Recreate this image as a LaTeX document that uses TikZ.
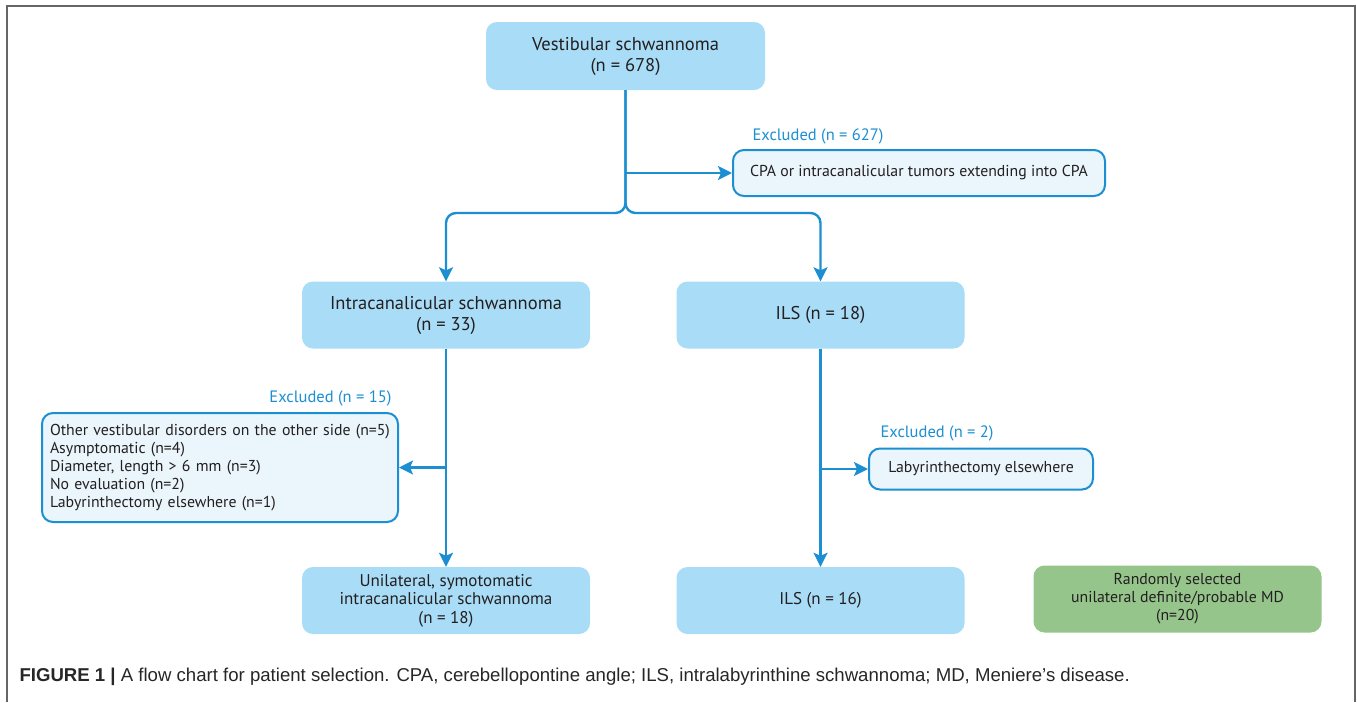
\documentclass[tikz,border=0pt]{standalone}
\usepackage{fontspec}
\setmainfont{PT Sans}
\newfontfamily\capfont{Liberation Sans}
\usepackage{tikz}
\usetikzlibrary{positioning, calc}
\usetikzlibrary{arrows.meta}
\definecolor{boxblue}{HTML}{A9DCF6}
\definecolor{paleblue}{HTML}{EBF6FC}
\definecolor{lineblue}{HTML}{1B8FD2}
\definecolor{mdgreen}{HTML}{95C58B}
\definecolor{inkgray}{HTML}{231F20}

\begin{document}
\begin{tikzpicture}[x=1pt,y=-1pt,text=inkgray]
	\def \rowtop{56}
	\def \rowcpa{173}
	\def \rowsplit{213}
	\def \rowmid{315}
	\def \rowexcl{469}
	\def \rowbottom{600.5}
	\def \colleft{446}
	\def \colright{820.5}
	\tikzstyle{main-node}=[rectangle,rounded corners=11pt,fill=boxblue,align=center,minimum width=288pt,minimum height=67pt,font=\fontsize{18.5}{21}\selectfont]
	\tikzstyle{low-node}=[main-node,font=\fontsize{17}{18.5}\selectfont]
	\tikzstyle{ex-node}=[rectangle,rounded corners=11pt,draw=lineblue,line width=2pt,fill=paleblue,font=\fontsize{15.8}{18}\selectfont]
	\tikzstyle{ex-lbl}=[text=lineblue,font=\fontsize{16.5}{18}\selectfont]
	\tikzstyle{flow}=[draw=lineblue,line width=2.4pt,-{Stealth[length=14pt,width=14pt,inset=3pt]}]
	\useasboundingbox (0,0) rectangle (1357,702);
	\draw[black!60,line width=1.6pt] (7,702) -- (7,6) -- (1355,6) -- (1355,702);

	% selection boxes
	\node[main-node,minimum width=279pt,minimum height=68pt] (vs) at (625.5,\rowtop) {Vestibular schwannoma\\(n = 678)};
	\node[main-node] (ic) at (\colleft,\rowmid) {Intracanalicular schwannoma\\(n = 33)};
	\node[main-node] (ils) at (\colright,\rowmid) {ILS (n = 18)};
	\node[low-node] (uni) at (\colleft,\rowbottom) {Unilateral, symotomatic\\intracanalicular schwannoma\\(n = 18)};
	\node[low-node] (ilsb) at (\colright,\rowbottom) {ILS (n = 16)};
	\node[low-node,fill=mdgreen,font=\fontsize{15.8}{18}\selectfont] (md) at (1177.5,599) {Randomly selected\\unilateral definite/probable MD\\(n=20)};

	% exclusions
	\node[ex-node,minimum width=372pt,minimum height=46pt] (cpa) at (919,\rowcpa) {CPA or intracanalicular tumors extending into CPA};
	\node[ex-node,minimum width=356pt,minimum height=109pt,align=left,text width=340pt] (exl) at (220,467.5) {Other vestibular disorders on the other side (n=5)\\Asymptomatic (n=4)\\Diameter, length > 6 mm (n=3)\\No evaluation (n=2)\\Labyrinthectomy elsewhere (n=1)};
	\node[ex-node,minimum width=224pt,minimum height=41pt] (lab) at (981,\rowexcl) {Labyrinthectomy elsewhere};
	\node[ex-lbl,anchor=west] (lbl0) at (749,136) {Excluded (n = 627)};
	\node[ex-lbl,anchor=east] (lbl1) at (395,398) {Excluded (n = 15)};
	\node[ex-lbl,anchor=west] (lbl2) at (877,433) {Excluded (n = 2)};

	% connectors
	\coordinate (split) at (625.5,\rowsplit);
	\coordinate (j0) at (vs.south |- cpa.west);
	\coordinate (j1) at (ic.south |- exl.east);
	\coordinate (j2) at (ils.south |- lab.west);
	\draw[flow,rounded corners=10pt] (vs.south) -- (split) -| (ic.north);
	\draw[flow,rounded corners=10pt] (vs.south) -- (split) -| (ils.north);
	\draw[flow] (j0) -- (cpa.west);
	\draw[flow] (ic.south) -- (uni.north);
	\draw[flow] (j1) -- (exl.east);
	\draw[flow] (ils.south) -- (ilsb.north);
	\draw[flow] (j2) -- (lab.west);

	% caption
	\node[anchor=west,font=\capfont\fontsize{18.6}{21}\selectfont,text=black!85] (cap) at (16,677) {\textbf{FIGURE 1 |} A flow chart for patient selection. CPA, cerebellopontine angle; ILS, intralabyrinthine schwannoma; MD, Meniere’s disease.};
\end{tikzpicture}
\end{document}
